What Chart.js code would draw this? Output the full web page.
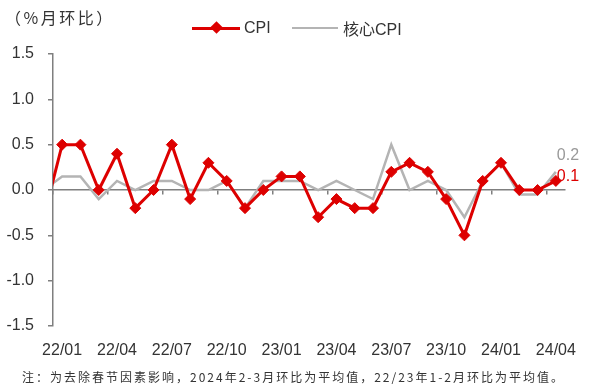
<!DOCTYPE html>
<html>
<head>
<meta charset="utf-8">
<script src="https://cdn.jsdelivr.net/npm/chart.js@4"></script>
<style>
  body { margin: 0; background: #fff; }
  #wrap { position: relative; width: 595px; height: 389px; overflow: hidden; }
  #c { position: absolute; left: 0; top: 0; }
  .txt { position: absolute; white-space: nowrap; color: #333; line-height: 1; }
  .lat { font-family: "Liberation Sans", Arial, sans-serif; font-size: 16px; }
  .cjk { font-family: "Noto Sans CJK SC", sans-serif; }
</style>
</head>
<body>
<div id="wrap">
  <canvas id="c" width="595" height="389"></canvas>
  <div class="txt cjk" style="left:5px; top:9px; font-size:16px; letter-spacing:2.5px;">（%月环比）</div>
  <!-- legend -->
  <div style="position:absolute; left:192px; top:26.5px; width:48px; height:3px; background:#DD0000;"></div>
  <div style="position:absolute; left:212px; top:23px; width:9px; height:9px; background:#DD0000; transform:rotate(45deg);"></div>
  <div class="txt lat" style="left:244px; top:20px;">CPI</div>
  <div style="position:absolute; left:292px; top:27px; width:46px; height:2px; background:#b4b4b4;"></div>
  <div class="txt" style="left:343px; top:20px; font-size:16px;"><span class="cjk">核心</span><span class="lat">CPI</span></div>
  <!-- note -->
  <div id="note" class="txt cjk" style="left:22px; top:371px; font-size:12px; letter-spacing:2px;">注：为去除春节因素影响，2024年2-3月环比为平均值，22/23年1-2月环比为平均值。</div>
</div>
<script>
// months, 21/12 is only there so the first segment runs off the left edge
const months = ["21/12",
  "22/01","22/02","22/03","22/04","22/05","22/06","22/07","22/08","22/09","22/10","22/11","22/12",
  "23/01","23/02","23/03","23/04","23/05","23/06","23/07","23/08","23/09","23/10","23/11","23/12",
  "24/01","24/02","24/03","24/04"];
const cpi = [-0.3,
  0.5, 0.5, 0.0, 0.4, -0.2, 0.0, 0.5, -0.1, 0.3, 0.1, -0.2, 0.0,
  0.15, 0.15, -0.3, -0.1, -0.2, -0.2, 0.2, 0.3, 0.2, -0.1, -0.5, 0.1,
  0.3, 0.0, 0.0, 0.1];
const coreCpi = [0.0,
  0.15, 0.15, -0.1, 0.1, 0.0, 0.1, 0.1, 0.0, 0.0, 0.1, -0.2, 0.1,
  0.1, 0.1, 0.0, 0.1, 0.0, -0.1, 0.5, 0.0, 0.1, 0.0, -0.3, 0.1,
  0.3, -0.05, -0.05, 0.2];
const yTicks = [-1.5, -1.0, -0.5, 0.0, 0.5, 1.0, 1.5];

const RED = "#DD0000";
const GRAY = "#b4b4b4";
const AXIS = "#7f7f7f";
const latFont = { family: "'Liberation Sans', Arial, sans-serif", size: 16 };

// last value written next to the line end
const endLabels = {
  id: "endLabels",
  afterDatasetsDraw(chart) {
    const ctx = chart.ctx;
    const offsets = [-4, -16];
    const colors = [RED, "#999999"];
    ctx.save();
    ctx.font = "16px 'Liberation Sans', Arial, sans-serif";
    ctx.textAlign = "left";
    ctx.textBaseline = "middle";
    chart.data.datasets.forEach((ds, i) => {
      const pts = chart.getDatasetMeta(i).data;
      const p = pts[pts.length - 1];
      ctx.fillStyle = colors[i];
      ctx.fillText(ds.data[ds.data.length - 1].toFixed(1), p.x + 1, p.y + offsets[i]);
    });
    ctx.restore();
  }
};

new Chart(document.getElementById("c"), {
  type: "line",
  data: {
    labels: months,
    datasets: [
      {
        label: "CPI",
        data: cpi,
        borderColor: RED,
        backgroundColor: RED,
        borderWidth: 3,
        pointStyle: "rectRot",
        pointRadius: 5.5,
        pointBorderWidth: 1,
        pointBorderColor: RED,
        pointBackgroundColor: RED,
        tension: 0,
      },
      {
        label: "核心CPI",
        data: coreCpi,
        borderColor: GRAY,
        borderWidth: 2.5,
        pointRadius: 0,
        tension: 0,
      },
    ],
  },
  options: {
    responsive: false,
    animation: false,
    layout: { padding: { left: 0, right: 30, top: 54, bottom: 0 } },
    plugins: { legend: { display: false }, tooltip: { enabled: false } },
    scales: {
      x: {
        type: "category",
        position: "bottom",
        min: "22/01",
        offset: true,
        grid: { display: false },
        border: { display: false },
        ticks: {
          autoSkip: false,
          maxRotation: 0,
          padding: 7,
          color: "#333",
          font: latFont,
          callback: function (value, index) {
            return index % 3 === 0 ? this.getLabelForValue(value) : "";
          },
        },
        afterFit: (s) => { s.height = 63; },
      },
      x2: {
        type: "category",
        position: { y: 0 },
        min: "22/01",
        offset: true,
        ticks: { display: false },
        grid: {
          offset: true,
          drawOnChartArea: false,
          drawTicks: true,
          tickLength: 4,
          lineWidth: 1.5,
          color: (c) => (c.index % 3 === 0 ? AXIS : "rgba(0,0,0,0)"),
        },
        border: { display: true, color: AXIS, width: 1.5 },
      },
      y: {
        min: -1.5,
        max: 1.5,
        afterBuildTicks: (s) => { s.ticks = yTicks.map((v) => ({ value: v })); },
        afterFit: (s) => { s.width = 53; },
        grid: { drawOnChartArea: false, tickLength: 5, color: AXIS, lineWidth: 1.5 },
        border: { color: AXIS, width: 1.5 },
        ticks: {
          padding: 14,
          color: "#333",
          font: latFont,
          callback: (v) => v.toFixed(1),
        },
      },
    },
  },
  plugins: [endLabels],
});
</script>
</body>
</html>
